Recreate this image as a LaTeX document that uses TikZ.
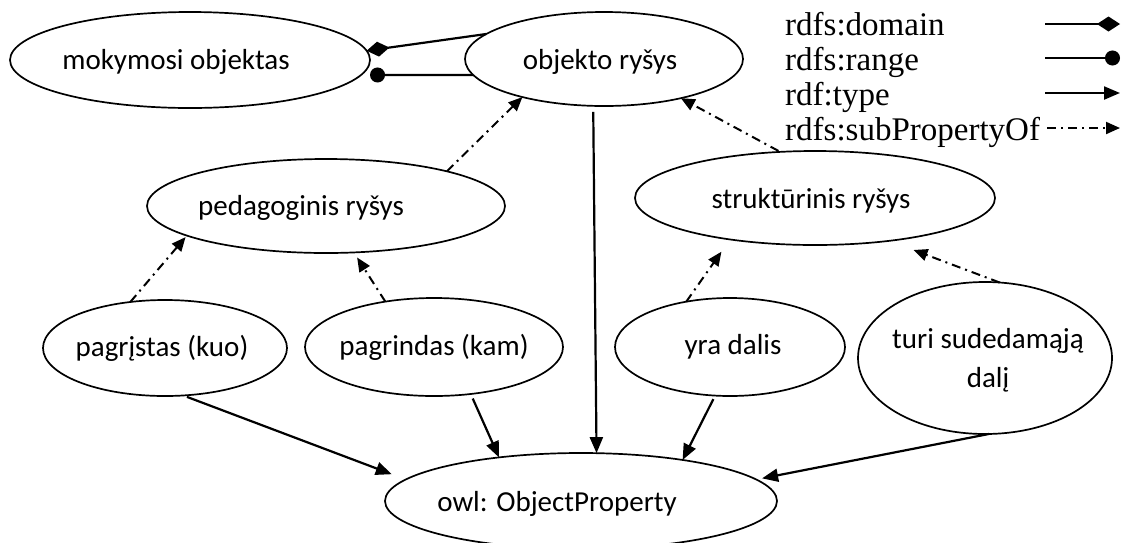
\documentclass[tikz,border=0pt]{standalone}
\usepackage{fontspec}
\newfontfamily\calfont{Carlito}
\newfontfamily\tmsfont{Liberation Serif}
\usetikzlibrary{shapes.geometric,arrows.meta}
\begin{document}
\begin{tikzpicture}[x=1pt,y=-1pt,
  ell/.style={ellipse, draw, line width=1.7pt, inner sep=0pt, outer sep=0pt},
  txt/.style={font=\calfont\fontsize{29}{39}\selectfont, inner sep=0pt, align=center},
  leg/.style={font=\tmsfont\fontsize{33}{40}\selectfont, inner sep=0pt, anchor=base west},
  typ/.style={line width=2.2pt, -{Triangle[length=16pt,width=13pt]}},
  sub/.style={line width=2pt, dash pattern=on 9pt off 5pt on 2pt off 5pt, -{Triangle[length=14pt,width=12pt]}},
  dom/.style={line width=2.2pt, -{Diamond[length=23pt,width=15pt]}},
  rng/.style={line width=2.2pt, -{Circle[length=15pt]}},
]
\useasboundingbox (0,0) rectangle (1121,542);

% ellipses
\node[ell, minimum width=360pt, minimum height=96pt,
  label={[txt,xshift=-14pt,yshift=-2pt]center:mokymosi objektas}] (mok) at (190,60) {};
\node[ell, minimum width=278pt, minimum height=94pt,
  label={[txt,xshift=-4pt,yshift=-3pt]center:objekto ryšys}] (obj) at (604,59) {};
\node[ell, minimum width=358pt, minimum height=94pt,
  label={[txt,xshift=-25pt,yshift=-2pt]center:pedagoginis ryšys}] (ped) at (326,206) {};
\node[ell, minimum width=360pt, minimum height=94pt,
  label={[txt,xshift=-4pt,yshift=-3pt]center:struktūrinis ryšys}] (struk) at (815,198) {};
\node[ell, minimum width=244pt, minimum height=96pt,
  label={[txt,xshift=-3pt]center:pagrįstas (kuo)}] (pagr) at (165,348) {};
\node[ell, minimum width=258pt, minimum height=98pt,
  label={[txt]center:pagrindas (kam)}] (pagrindas) at (434,347) {};
\node[ell, minimum width=230pt, minimum height=98pt,
  label={[txt,xshift=3pt]center:yra dalis}] (yra) at (730,347) {};
\node[ell, minimum width=254pt, minimum height=152pt,
  label={[txt,xshift=3pt,yshift=-2pt]center:turi sudedamąją\\dalį}] (turi) at (985,358) {};
\node[ell, minimum width=392pt, minimum height=96pt,
  label={[txt,xshift=-24pt,yshift=-3pt]center:owl: ObjectProperty}] (owl) at (581,501) {};

% domain / range
\draw[dom] (obj.168.6) -- (mok.3.9);
\draw[rng, shorten >=9pt] (obj.187.4) -- (mok.-5.4);

% rdf:type
\draw[typ, shorten <=6pt] (obj.257.2) -- (owl.72.7);
\draw[typ, shorten <=4pt, shorten >=15pt] (pagr.-69.9) -- (owl.173.8);
\draw[typ, shorten <=5pt] (pagrindas.-52.3) -- (owl.152);
\draw[typ, shorten <=4pt] (yra.253.2) -- (owl.22.9);
\draw[typ, shorten >=6pt] (turi.-87) -- (owl.7.3);

% subPropertyOf
\draw[sub] (ped.16) -- (obj.205.4);
\draw[sub, shorten <=2pt] (struk.127.5) -- (obj.-27.8);
\draw[sub, shorten >=2pt] (pagr.127.9) -- (ped.192.6);
\draw[sub, shorten >=6pt] (pagrindas.137) -- (ped.-59.2);
\draw[sub, shorten >=15pt] (yra.134.3) -- (struk.206.3);
\draw[sub, shorten >=26pt] (turi.79.6) -- (struk.-30.1);

% legend
\node[leg] (ld) at (785,35) {rdfs:domain};
\node[leg] (lr) at (785,70) {rdfs:range};
\node[leg] (lt) at (785,105) {rdf:type};
\node[leg] (ls) at (785,140) {rdfs:subPropertyOf};
\coordinate (d1) at (1045,24);  \coordinate (d2) at (1120,24);
\coordinate (r1) at (1045,58);  \coordinate (r2) at (1120,58);
\coordinate (t1) at (1045,93);  \coordinate (t2) at (1120,93);
\coordinate (s1) at (1047,128); \coordinate (s2) at (1120,128);
\draw[dom] (d1) -- (d2);
\draw[rng] (r1) -- (r2);
\draw[typ] (t1) -- (t2);
\draw[sub] (s1) -- (s2);
\end{tikzpicture}
\end{document}
